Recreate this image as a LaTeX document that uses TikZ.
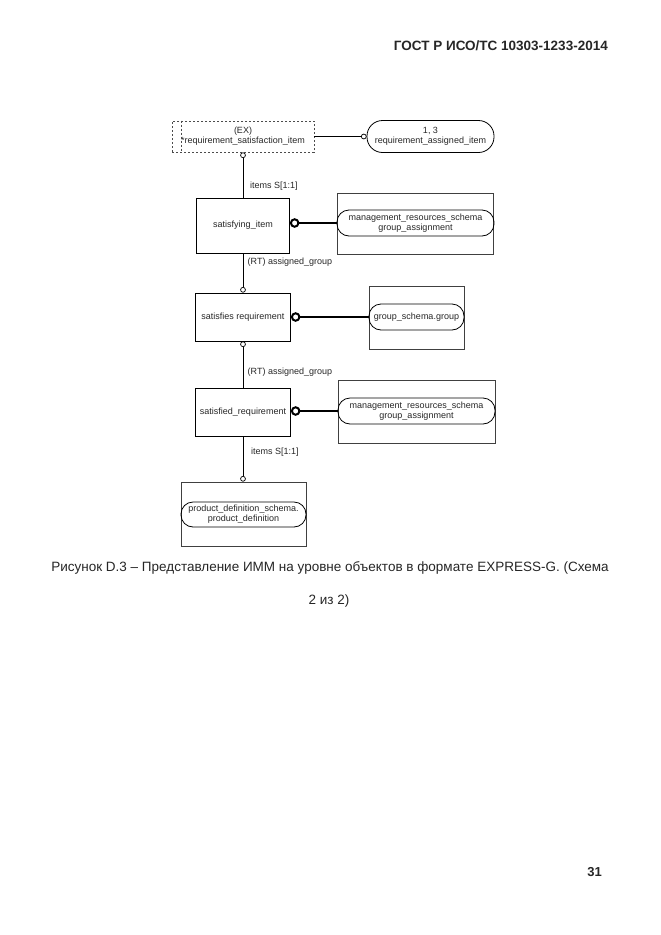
\documentclass[tikz,border=0pt]{standalone}
\usepackage{fontspec}
\setmainfont{Liberation Sans}
\usetikzlibrary{arrows.meta}

\begin{document}
\begin{tikzpicture}[x=1pt, y=-1pt,
  every node/.style={inner sep=0pt, font=\fontsize{9}{10}\selectfont, text=black!85},
  entity/.style={draw, line width=0.8pt, align=center},
  schemaref/.style={draw, line width=0.8pt, rounded corners=12pt, align=center},
  pagebox/.style={draw=black!75, line width=0.8pt},
  selectbox/.style={draw=black!70, line width=0.8pt, dash pattern=on 2.2pt off 1.8pt, align=center},
  lbl/.style={anchor=west},
  link/.style={line width=0.8pt, -{Circle[open, length=5.6pt, width=5.6pt, line width=0.7pt]}},
  strong/.style={line width=2.6pt, -{Circle[open, length=9.5pt, width=9.5pt, line width=2pt]}}]
\useasboundingbox (0,0) rectangle (661,935);

\node (head) [anchor=east, font=\fontsize{13.5}{15}\bfseries] at (608, 46) {ГОСТ Р ИСО/ТС 10303-1233-2014};

% select type
\node (ex) [selectbox, minimum width=142pt, minimum height=31pt] at (243, 136.5) {(EX)\\*requirement\_satisfaction\_item};
\draw [black!70, line width=0.8pt, dash pattern=on 2.2pt off 1.8pt] ([xshift=10pt]ex.north west) -- ([xshift=10pt]ex.south west);
\node (ra) [schemaref, rounded corners=15.5pt, minimum width=127pt, minimum height=32pt] at (430.5, 136.5) {1, 3\\requirement\_assigned\_item};

% entities
\node (si) [entity, minimum width=93pt, minimum height=55pt] at (243, 225.5) {satisfying\_item};
\node (sr) [entity, minimum width=95pt, minimum height=48pt] at (243, 317) {satisfies requirement};
\node (sd) [entity, minimum width=95pt, minimum height=48pt] at (243, 412) {satisfied\_requirement};

% page references
\node (mg1box) [pagebox, minimum width=156pt, minimum height=61pt] at (415, 223.5) {};
\node (mg1) [schemaref, minimum width=157pt, minimum height=26pt] at (415.5, 223) {management\_resources\_schema\\group\_assignment};
\node (gsbox) [pagebox, minimum width=95pt, minimum height=63pt] at (416.5, 317.5) {};
\node (gs) [schemaref, minimum width=95pt, minimum height=26pt] at (416.5, 317) {group\_schema.group};
\node (mg2box) [pagebox, minimum width=157pt, minimum height=63pt] at (416.5, 411.5) {};
\node (mg2) [schemaref, minimum width=157pt, minimum height=26pt] at (416.5, 411) {management\_resources\_schema\\group\_assignment};
\node (pdbox) [pagebox, minimum width=125pt, minimum height=64pt] at (243.5, 514) {};
\node (pd) [schemaref, minimum width=125pt, minimum height=25pt] at (243.5, 514.5) {product\_definition\_schema.\\product\_definition};

% relations
\draw [link] (ex.east) -- (ra.west);
\draw [link] (si.north) -- (ex.south);
\draw [link] (si.south) -- (sr.north);
\draw [link] (sd.north) -- (sr.south);
\draw [link] (sd.south) -- (sd.south |- pdbox.north);
\draw [strong] (mg1.west) -- (mg1.west -| si.east);
\draw [strong] (gs.west) -- (sr.east);
\draw [strong] (mg2.west) -- (mg2.west -| sd.east);

\node (l1) [lbl] at (250, 186) {items S[1:1]};
\node (l2) [lbl] at (247.5, 262) {(RT) assigned\_group};
\node (l3) [lbl] at (247.5, 372) {(RT) assigned\_group};
\node (l4) [lbl] at (251, 452) {items S[1:1]};

\node (cap1) [font=\fontsize{13.5}{15}\selectfont] at (330, 568) {Рисунок D.3 –  Представление ИММ на уровне объектов в формате EXPRESS-G. (Схема};
\node (cap2) [font=\fontsize{13.5}{15}\selectfont] at (329, 601) {2 из 2)};

\node (page) [anchor=east, font=\fontsize{13}{15}\bfseries] at (602, 872) {31};
\end{tikzpicture}
\end{document}
